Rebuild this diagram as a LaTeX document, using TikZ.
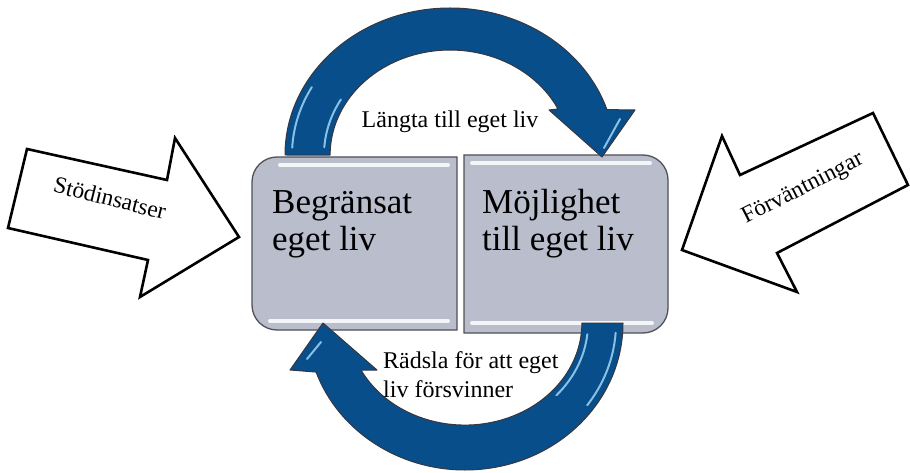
\documentclass[tikz,border=0pt]{standalone}
\usepackage{fontspec}
\setmainfont{Liberation Serif}
\definecolor{boxgray}{RGB}{186,189,204}
\definecolor{boxedge}{RGB}{80,80,85}
\definecolor{arrowblue}{RGB}{8,78,138}
\definecolor{arrowedge}{RGB}{55,55,65}
\definecolor{shineblue}{RGB}{150,205,240}
\begin{document}
\begin{tikzpicture}[x=1pt,y=-1pt,
  boxfill/.style={fill=boxgray, draw=boxedge, line width=1.3pt},
  bluearrow/.style={fill=arrowblue, draw=arrowedge, line width=1pt, line join=round},
  outlinearrow/.style={fill=white, draw=black, line width=2.6pt, line join=miter},
  hilite/.style={draw=white, line width=4pt, line cap=round, opacity=0.85},
  shine/.style={draw=shineblue, line width=2pt, line cap=round, opacity=0.9},
  boxtext/.style={font=\fontsize{35}{36}\selectfont, align=left, inner sep=0pt, anchor=base west},
  labeltext/.style={font=\fontsize{24}{29}\selectfont, inner sep=0pt},
  sidetext/.style={font=\fontsize{23.5}{27}\selectfont, inner sep=0pt}]
\useasboundingbox (0,0) rectangle (910,473);

% boxes
\draw[boxfill] (457,157) -- (277,157) arc[start angle=270,end angle=180,radius=25]
  -- (252,305) arc[start angle=180,end angle=90,radius=25] -- (457,330) -- cycle;
\draw[boxfill] (464,155) -- (643,155) arc[start angle=270,end angle=360,radius=25]
  -- (668,308) arc[start angle=0,end angle=90,radius=25] -- (464,333) -- cycle;
\draw[hilite] (280,165) -- (448,165);
\draw[hilite] (270,321) -- (448,321);
\draw[hilite] (472,163) -- (650,163);
\draw[hilite] (472,323) -- (652,323);

% top circular arrow
\draw[bluearrow] (285,155) arc[start angle=180,end angle=342,x radius=165,y radius=147]
  -- (635,110) -- (602,157) -- (549,110) -- (558,109)
  arc[start angle=334,end angle=180,x radius=120,y radius=105] -- cycle;
\draw[shine] (450,155) ++(183:158 and 140) arc[start angle=183,end angle=209,x radius=158,y radius=140];
\draw[shine] (450,155) ++(184:126 and 111) arc[start angle=184,end angle=210,x radius=126,y radius=111];
\draw[shine] (620,119) -- (604,148);

% bottom circular arrow
\draw[bluearrow] (623,323) arc[start angle=0,end angle=160.5,x radius=158,y radius=147]
  -- (290,370) -- (323,323) -- (377,370) -- (361,370)
  arc[start angle=152.6,end angle=0,x radius=117,y radius=102] -- cycle;
\draw[shine] (465,323) ++(4:151 and 140) arc[start angle=4,end angle=36,x radius=151,y radius=140];
\draw[shine] (465,323) ++(6:123 and 108) arc[start angle=6,end angle=42,x radius=123,y radius=108];
\draw[shine] (321,342) -- (307,359);

% side arrows
\draw[outlinearrow] (27,149) -- (167,180) -- (175,138) -- (239,237) -- (140,297) -- (148,260) -- (8,228) -- cycle;
\draw[outlinearrow] (873,113) -- (740,175) -- (722,136) -- (682,250) -- (797,292) -- (777,253) -- (908,185) -- cycle;

% texts (base anchor = last line)
\node[boxtext] (b1) at (272,250) {Begränsat\\eget liv};
\node[boxtext] (b2) at (482,250) {Möjlighet\\till eget liv};
\node[labeltext, anchor=base] (ltop) at (450,128) {Längta till eget liv};
\node[labeltext, anchor=base west, align=left] (lbot) at (383,397) {Rädsla för att eget\\liv försvinner};
\node[sidetext, rotate=-14] (s1) at (110,198) {Stödinsatser};
\node[sidetext, rotate=27] (s2) at (803,189) {Förväntningar};
\end{tikzpicture}
\end{document}
